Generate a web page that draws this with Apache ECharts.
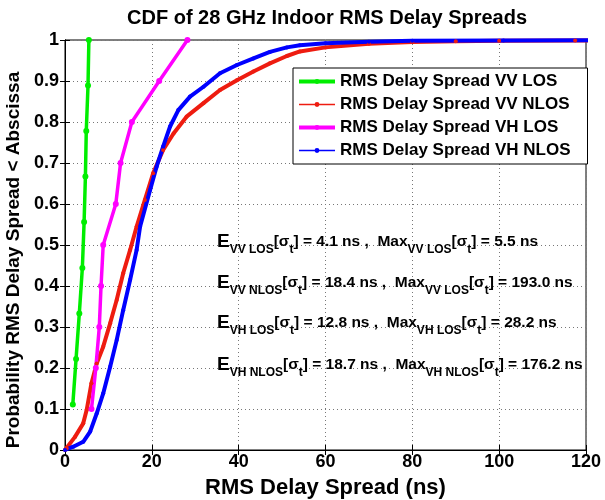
<!DOCTYPE html>
<html>
<head>
<meta charset="utf-8">
<script src="https://cdn.jsdelivr.net/npm/echarts@6/dist/echarts.min.js"></script>
<style>
  html, body { margin: 0; padding: 0; background: #fff; }
  #chart { width: 605px; height: 500px; }
</style>
</head>
<body>
<div id="chart"></div>
<script>
// CDF points: [delay ns, probability]
const vvLos = [[1.8, 0.111], [2.55, 0.222], [3.3, 0.333], [4.0, 0.444], [4.4, 0.556],
  [4.7, 0.667], [4.9, 0.778], [5.3, 0.889], [5.5, 1.0]];
const vvNlos = [[0, 0], [0.4, 0.004], [2.3, 0.032], [4.2, 0.065], [5.0, 0.098], [6.1, 0.163],
  [7.3, 0.211], [8.8, 0.252], [10.4, 0.309], [11.9, 0.366], [13.4, 0.431], [15.0, 0.488],
  [16.5, 0.545], [18.4, 0.61], [20.3, 0.675], [22.6, 0.732], [25.0, 0.772], [28.0, 0.813],
  [31.9, 0.846], [35.7, 0.878], [39.6, 0.902], [43.4, 0.923], [47.2, 0.943], [51.1, 0.961],
  [54.1, 0.972], [60, 0.982], [70, 0.991], [80, 0.995], [90, 0.997], [100, 0.998],
  [117.5, 0.999], [193.0, 1.0]];
const vhLos = [[6.1, 0.1], [7.1, 0.2], [7.9, 0.3], [8.3, 0.4], [8.8, 0.5], [11.7, 0.6],
  [12.8, 0.7], [15.4, 0.8], [21.7, 0.9], [28.2, 1.0]];
const vhNlos = [[0, 0], [1.9, 0.008], [4.2, 0.02], [5.8, 0.045], [7.3, 0.089], [8.8, 0.138],
  [10.4, 0.203], [11.9, 0.268], [13.4, 0.341], [15.0, 0.415], [16.5, 0.488], [17.3, 0.545],
  [19.6, 0.634], [21.1, 0.691], [22.6, 0.74], [24.2, 0.789], [26.1, 0.829], [28.8, 0.862],
  [31.9, 0.886], [35.7, 0.919], [39.6, 0.939], [43.4, 0.955], [47.2, 0.971], [51.1, 0.982],
  [54.1, 0.987], [60, 0.992], [70, 0.996], [80, 0.998], [101, 0.999], [176.2, 1.0]];

const seriesNames = ["RMS Delay Spread VV LOS", "RMS Delay Spread VV NLOS",
  "RMS Delay Spread VH LOS", "RMS Delay Spread VH NLOS"];
const seriesColors = ["#00ee00", "#ee1c10", "#ff00ff", "#0000ff"];

// annotation rows: [subscript, mean, max subscript, max]
const statRows = [
  ["VV LOS", "4.1", "VV LOS", "5.5"],
  ["VV NLOS", "18.4", "VV LOS", "193.0"],
  ["VH LOS", "12.8", "VH LOS", "28.2"],
  ["VH NLOS", "18.7", "VH NLOS", "176.2"]
];
const statTops = [232, 273, 313, 355];

const FONT = "Liberation Sans, Arial, sans-serif";

const chart = echarts.init(document.getElementById("chart"));

const rich = {
  e: { fontSize: 19, fontWeight: "bold", fontFamily: FONT, color: "#000", lineHeight: 28, verticalAlign: "middle" },
  s: { fontSize: 12, fontWeight: "bold", fontFamily: FONT, color: "#000", lineHeight: 13, verticalAlign: "bottom" },
  n: { fontSize: 15.5, fontWeight: "bold", fontFamily: FONT, color: "#000", lineHeight: 19, verticalAlign: "middle" }
};

const statText = statRows.map((r, i) => ({
  type: "text",
  left: 217,
  top: statTops[i],
  z: 10,
  style: {
    text: "{e|E}{s|" + r[0] + "}{n|[σ}{s|t}{n|] = " + r[1] + " ns ,  Max}{s|" + r[2] +
      "}{n|[σ}{s|t}{n|] = " + r[3] + " ns}",
    rich: rich
  }
}));

const lineSeries = (name, data, color, width, symSize) => ({
  name: name,
  type: "line",
  data: data,
  clip: true,
  symbol: "circle",
  symbolSize: symSize,
  showSymbol: true,
  lineStyle: { color: color, width: width },
  itemStyle: { color: color },
  animation: false
});

chart.setOption({
  backgroundColor: "#fff",
  animation: false,
  title: {
    text: "CDF of 28 GHz Indoor RMS Delay Spreads",
    left: 122,
    top: 3,
    textStyle: { fontFamily: FONT, fontSize: 20, fontWeight: "bold", color: "#000" }
  },
  grid: {
    left: 65, right: 19, top: 40, bottom: 50,
    outerBoundsMode: "none",
    show: true, borderColor: "#000", borderWidth: 1
  },
  legend: {
    orient: "vertical",
    left: 293,
    top: 68,
    itemWidth: 36,
    itemHeight: 6,
    itemGap: 6,
    padding: [5, 17, 5, 4],
    backgroundColor: "#fff",
    borderColor: "#000",
    borderWidth: 1,
    borderRadius: 0,
    textStyle: { fontFamily: FONT, fontSize: 17, fontWeight: "bold", color: "#000" },
    data: [
      { name: seriesNames[0], lineStyle: { width: 4 } },
      { name: seriesNames[1], lineStyle: { width: 1.5 } },
      { name: seriesNames[2], lineStyle: { width: 4 } },
      { name: seriesNames[3], lineStyle: { width: 1.5 } }
    ]
  },
  xAxis: [{
    type: "value",
    min: 0, max: 120, interval: 20,
    name: "RMS Delay Spread (ns)",
    nameLocation: "middle",
    nameGap: 27,
    nameTextStyle: { fontFamily: FONT, fontSize: 22, fontWeight: "bold", color: "#000" },
    axisLine: { lineStyle: { color: "#000" } },
    axisTick: { inside: true, length: 5, lineStyle: { color: "#000" } },
    axisLabel: { fontFamily: FONT, fontSize: 18, fontWeight: "bold", color: "#000", margin: 3 },
    splitLine: { show: true, lineStyle: { color: "#777", type: [1, 3] } }
  }, {
    type: "value", position: "top",
    min: 0, max: 120, interval: 20,
    axisLine: { show: true, lineStyle: { color: "#000" } },
    axisTick: { inside: true, length: 5, lineStyle: { color: "#000" } },
    axisLabel: { show: false },
    splitLine: { show: false }
  }],
  yAxis: [{
    type: "value",
    min: 0, max: 1, interval: 0.1,
    name: "Probability RMS Delay Spread < Abscissa",
    nameLocation: "middle",
    nameGap: 40,
    nameTextStyle: {
      fontFamily: FONT, fontSize: 19, fontWeight: "bold", color: "#000",
      padding: [0, 30, 0, 0]
    },
    axisLine: { show: true, lineStyle: { color: "#000" } },
    axisTick: { show: true, inside: true, length: 5, lineStyle: { color: "#000" } },
    axisLabel: {
      fontFamily: FONT, fontSize: 18, fontWeight: "bold", color: "#000", margin: 6,
      formatter: (v) => String(Math.round(v * 10) / 10)
    },
    splitLine: { show: true, lineStyle: { color: "#777", type: [1, 3] } }
  }, {
    type: "value", position: "right",
    min: 0, max: 1, interval: 0.1,
    axisLine: { show: true, lineStyle: { color: "#000" } },
    axisTick: { show: true, inside: true, length: 5, lineStyle: { color: "#000" } },
    axisLabel: { show: false },
    splitLine: { show: false }
  }],
  series: [
    lineSeries(seriesNames[0], vvLos, seriesColors[0], 3.5, 6),
    lineSeries(seriesNames[1], vvNlos, seriesColors[1], 4, 4),
    lineSeries(seriesNames[2], vhLos, seriesColors[2], 3.5, 6),
    lineSeries(seriesNames[3], vhNlos, seriesColors[3], 4, 4)
  ],
  graphic: statText
});
</script>
</body>
</html>
